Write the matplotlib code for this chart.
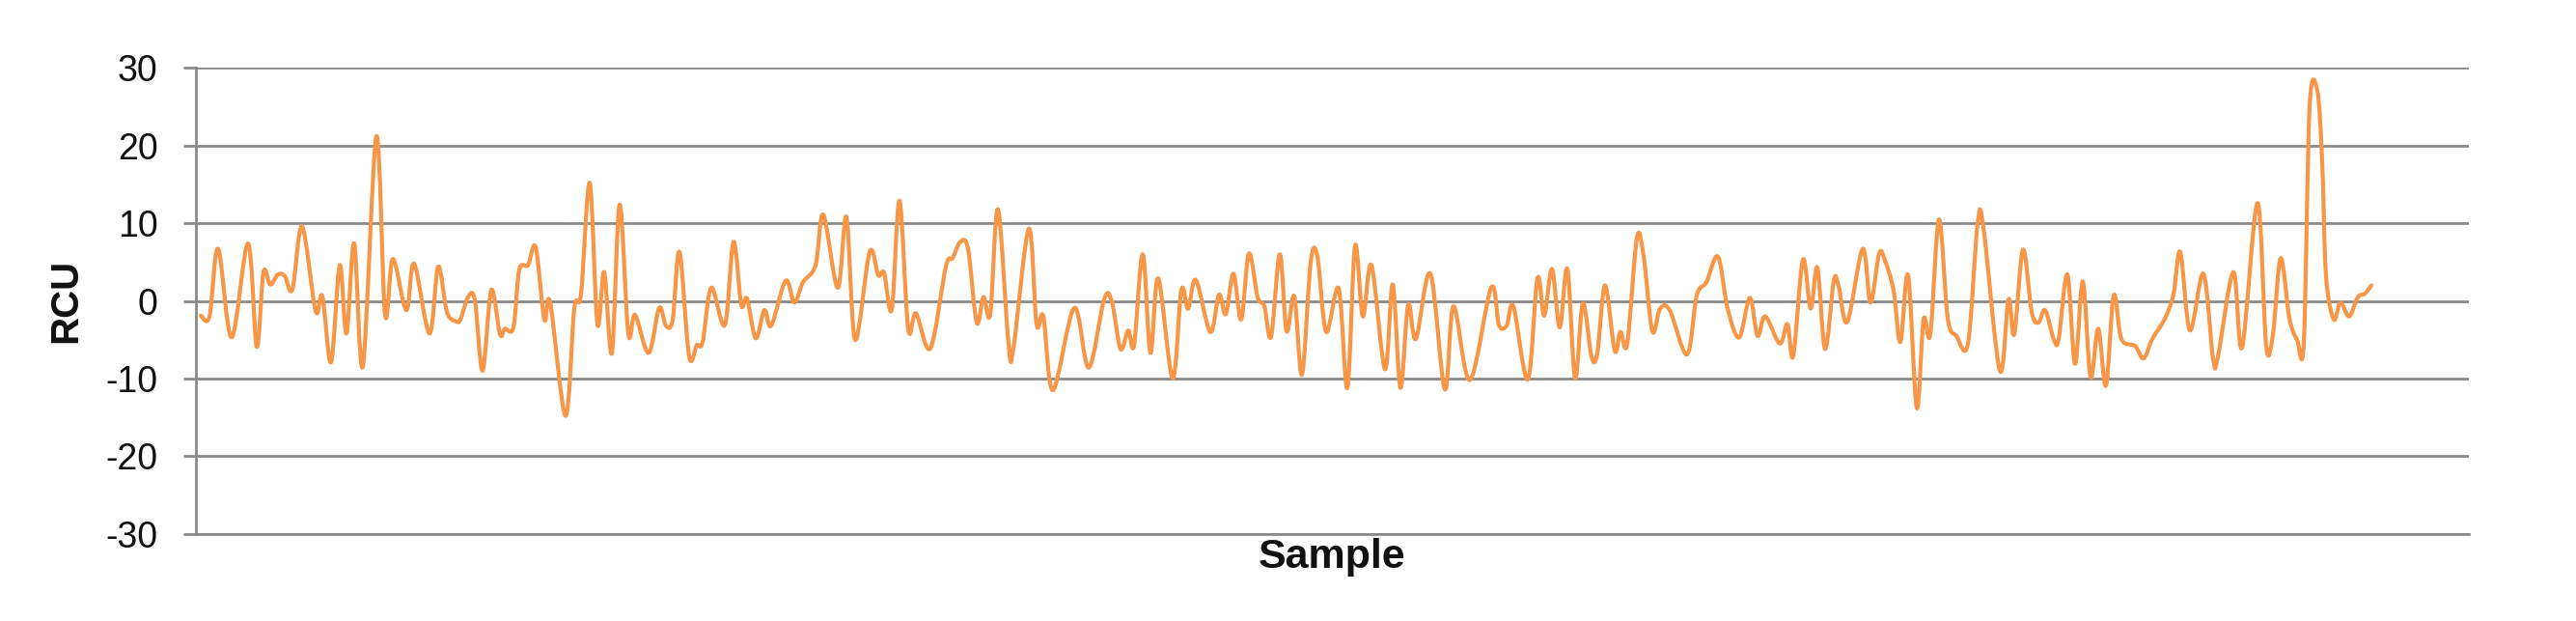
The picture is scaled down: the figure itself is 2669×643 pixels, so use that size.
import numpy as np
import matplotlib
matplotlib.use("Agg")
import matplotlib.pyplot as plt
from matplotlib.path import Path
from matplotlib.patches import PathPatch

plt.rcParams['font.family'] = ['Liberation Sans', 'DejaVu Sans']

# ---- data (sample position, RCU value) ----
sample = [8, 17, 26, 40, 57, 66, 73, 80, 88, 95, 103, 113, 127, 134, 143, 152, 159, 167, 176, 190,
          199, 207, 221, 229, 245, 254, 263, 272, 277, 285, 292, 300, 309, 318, 323, 332, 338, 347, 355, 364,
          370, 386, 395, 402, 411, 419, 426, 434, 442, 451, 458, 472, 483, 490, 497, 504, 514, 522, 528, 537,
          551, 560, 568, 574, 583, 592, 599, 614, 623, 632, 645, 653, 668, 677, 686, 701, 710, 716, 724, 732,
          741, 749, 764, 780, 787, 795, 803, 812, 819, 826, 834, 845, 850, 866, 874, 881, 891, 913, 928, 944,
          952, 961, 969, 975, 984, 992, 1000, 1015, 1024, 1031, 1039, 1054, 1063, 1070, 1078, 1086, 1094, 1103, 1110, 1117,
          1126, 1133, 1141, 1149, 1158, 1165, 1174, 1187, 1196, 1204, 1212, 1221, 1235, 1243, 1251, 1259, 1267, 1282, 1297, 1306,
          1323, 1345, 1353, 1361, 1368, 1383, 1393, 1400, 1408, 1416, 1424, 1432, 1440, 1449, 1455, 1463, 1473, 1479, 1486, 1496,
          1503, 1512, 1520, 1530, 1548, 1558, 1568, 1580, 1590, 1602, 1613, 1621, 1629, 1644, 1652, 1658, 1668, 1676, 1683, 1691,
          1700, 1705, 1714, 1730, 1738, 1747, 1753, 1762, 1769, 1777, 1786, 1793, 1800, 1809, 1818, 1827, 1839, 1849, 1855, 1872,
          1881, 1887, 1896, 1905, 1912, 1919, 1928, 1933, 1942, 1950, 1958, 1966, 1974, 1982, 1990, 1998, 2012, 2021, 2030, 2043,
          2052, 2059, 2069, 2083, 2093, 2098, 2114, 2123, 2139, 2148, 2155, 2163, 2172, 2180, 2187, 2193, 2201, 2206, 2210, 2218,
          2225, 2234, 2243, 2250, 2257]
rcu = [-1.9, -2.0, 6.7, -4.7, 7.4, -5.9, 3.7, 2.1, 3.4, 3.2, 1.5, 9.6, -1.3, 0.6, -7.9, 4.6, -4.2, 7.4, -8.4, 21.2,
       -1.8, 5.4, -1.2, 4.8, -4.2, 4.4, -1.4, -2.6, -2.4, 0.5, 0.1, -9.0, 1.4, -4.3, -3.6, -3.4, 4.0, 4.6, 6.9, -2.4,
       -0.2, -14.8, -1.0, 0.9, 15.2, -3.0, 3.7, -6.7, 12.4, -4.2, -1.8, -6.7, -0.9, -3.2, -2.4, 6.3, -7.1, -5.7, -5.3, 1.7,
       -3.1, 7.6, -0.5, 0.3, -4.8, -1.2, -3.2, 2.6, -0.2, 2.4, 4.6, 11.1, 1.7, 10.8, -5.0, 6.3, 3.3, 3.6, -1.1, 12.9,
       -3.6, -1.6, -6.1, 4.4, 5.5, 7.6, 6.7, -2.8, 0.5, -1.7, 11.8, -5.6, -6.1, 9.3, -3.0, -2.0, -11.5, -0.9, -8.6, 0.2,
       -0.1, -6.2, -3.8, -5.7, 6.0, -6.7, 2.9, -10.0, 1.4, -1.0, 2.7, -4.0, 0.8, -1.7, 3.5, -2.4, 6.1, 0.5, -0.7, -4.6,
       6.0, -3.9, 0.6, -9.5, 5.0, 5.7, -4.0, 1.6, -11.2, 7.1, -2.0, 4.6, -8.8, 2.1, -11.2, -0.5, -4.9, 3.5, -11.4, -0.7,
       -10.2, 1.7, -3.1, -3.2, -0.7, -10.1, 2.9, -1.9, 4.1, -3.4, 4.1, -10.0, -0.3, -7.2, -6.7, 2.0, -6.4, -4.0, -5.5, 8.1,
       5.7, -3.9, -1.0, -1.2, -6.9, 0.7, 2.4, 5.7, -1.0, -4.7, 0.4, -4.5, -2.0, -5.5, -3.0, -7.1, 5.3, -1.0, 4.3, -6.2,
       2.6, 1.9, -2.7, 6.7, -0.2, 6.1, 5.2, 1.3, -5.3, 3.3, -13.8, -2.4, -4.3, 10.5, -2.2, -4.5, -5.5, 9.9, 9.5, -9.0,
       0.2, -4.3, 6.6, -1.4, -2.8, -1.2, -5.0, -4.9, 3.4, -8.1, 2.5, -9.8, -3.6, -10.9, 0.7, -4.9, -5.8, -7.4, -4.9, -2.3,
       0.9, 6.3, -3.8, 3.5, -7.5, -7.2, 3.7, -6.0, 12.6, -5.8, -4.3, 5.5, -2.2, -5.0, -5.3, 25.0, 27.1, 18.0, 3.2, -2.4,
       -0.2, -2.0, 0.5, 0.9, 2.0]
y_ticks = [-30, -20, -10, 0, 10, 20, 30]
x_label = "Sample"
y_label = "RCU"

LINE = '#F79646'
GRID = '#8a8a8a'

fig = plt.figure(figsize=(26.69, 6.43), dpi=100)
ax = fig.add_axes([203 / 2669, 90.3 / 643, 2355 / 2669, 482.3 / 643])

# smoothed line (Catmull-Rom style Bezier through the data points)
x = np.asarray(sample, float)
y = np.asarray(rcu, float)
xp = np.r_[x[0], x, x[-1]]
yp = np.r_[y[0], y, y[-1]]
verts = [(x[0], y[0])]
codes = [Path.MOVETO]
for i in range(len(x) - 1):
    c1 = (xp[i + 1] + (xp[i + 2] - xp[i]) / 6, yp[i + 1] + (yp[i + 2] - yp[i]) / 6)
    c2 = (xp[i + 2] - (xp[i + 3] - xp[i + 1]) / 6, yp[i + 2] - (yp[i + 3] - yp[i + 1]) / 6)
    verts += [c1, c2, (xp[i + 2], yp[i + 2])]
    codes += [Path.CURVE4] * 3
patch = PathPatch(Path(verts, codes), facecolor='none', edgecolor=LINE, lw=3.0,
                  capstyle='round', joinstyle='round', zorder=3)
ax.add_patch(patch)

ax.set_xlim(3, 2358)
ax.set_ylim(-30, 30)
ax.set_yticks(y_ticks)
ax.set_yticklabels([str(t) for t in y_ticks])
ax.set_xticks([])

ax.grid(axis='y', color=GRID, linewidth=2.0, zorder=1)
ax.set_axisbelow(True)
for s in ['top', 'right']:
    ax.spines[s].set_visible(False)
for s in ['left', 'bottom']:
    ax.spines[s].set_color(GRID)
    ax.spines[s].set_linewidth(2.0)

ax.tick_params(axis='y', direction='out', length=9.4, width=2.0, color=GRID,
               pad=19, labelsize=27, labelcolor='#111111')

ax.set_ylabel(y_label, fontsize=29, fontweight='bold', color='#111111')
ax.yaxis.set_label_coords(-0.049, 0.5)
ax.set_xlabel(x_label, fontsize=31, fontweight='bold', color='#111111')
ax.xaxis.set_label_coords(0.5, -0.008)

fig.savefig('out.png', dpi=100, facecolor='white')
